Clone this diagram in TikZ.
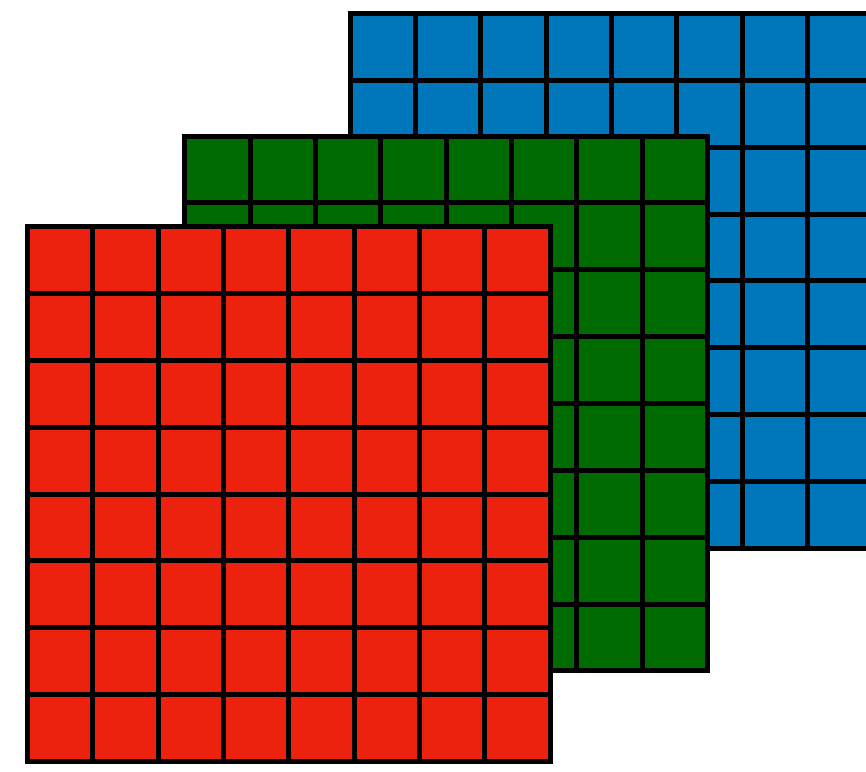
\documentclass[tikz,border=0pt]{standalone}
\definecolor{layerred}{RGB}{237,34,14}
\definecolor{layergreen}{RGB}{0,107,0}
\definecolor{layerblue}{RGB}{0,118,187}
\tikzset{gridline/.style={line width=5pt,draw=black}}
\newcommand\gridlayer[3]{%
  \fill[#3] (#1,#2) rectangle ++(522.8,534.9);
  \foreach \i in {1,...,7} {
    \draw[gridline] ({#1+\i*65.35},#2) -- ++(0,534.9);
    \draw[gridline] (#1,{#2+\i*66.86}) -- ++(522.8,0);
  }
  \draw[gridline] (#1,#2) rectangle ++(522.8,534.9);
}
\begin{document}
\begin{tikzpicture}[x=1pt,y=-1pt]
\useasboundingbox (0,0) rectangle (866,771);
\clip (0,0) rectangle (866,771);
\gridlayer{350}{13.5}{layerblue}
\gridlayer{184.8}{136}{layergreen}
\gridlayer{27.5}{226.6}{layerred}
\end{tikzpicture}
\end{document}
